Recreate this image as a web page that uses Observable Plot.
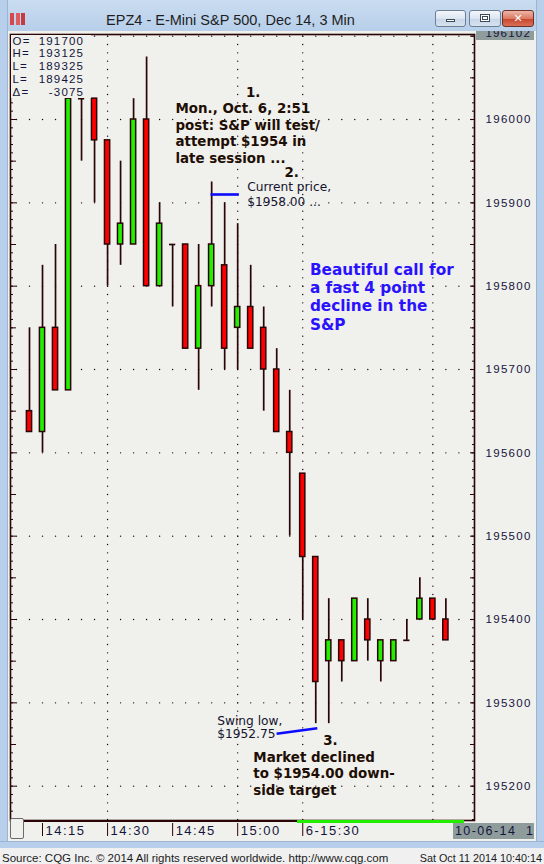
<!DOCTYPE html>
<html>
<head>
<meta charset="utf-8">
<script src="https://cdn.jsdelivr.net/npm/d3@7"></script>
<script src="https://cdn.jsdelivr.net/npm/@observablehq/plot@0.6"></script>
<style>
html, body { margin:0; padding:0; background:#f0f0f0; }
#win { position:relative; width:544px; height:864px; overflow:hidden; background:#f0f0ec; font-family:"Liberation Sans", Arial, sans-serif; }
#titlebar { position:absolute; left:0; top:0; width:544px; height:31px; background:linear-gradient(#cadcf0, #b7cfea); }
#lborder { position:absolute; left:0; top:0; width:8px; height:848px; background:#b7cfea; border-right:1px solid #9db5d2; box-sizing:border-box; }
#rborder { position:absolute; right:0; top:0; width:8px; height:848px; background:#b7cfea; border-left:1px solid #9db5d2; box-sizing:border-box; }
#bborder { position:absolute; left:0; top:841px; width:544px; height:7px; background:#b7cfea; border-top:1px solid #9db5d2; box-sizing:border-box; }
#footer { position:absolute; left:0; top:848px; width:544px; height:16px; background:#f0f0f0; color:#1a1a1a; line-height:16px; }
#footer .l { position:absolute; left:2px; top:2px; font-size:11.5px; }
#footer .r { position:absolute; right:2px; top:2px; font-size:10.8px; }
#title { position:absolute; left:28px; width:405px; top:12px; text-align:center; font-size:14.5px; color:#1e1e1e; line-height:17px; }
#icon { position:absolute; left:10px; top:13px; width:15px; height:12px;
  background:
    linear-gradient(90deg, #d83030 0 4px, transparent 4px 6px, #e04848 6px 10px, transparent 10px 11px, #c82020 11px 15px);
  opacity:0.85; }
.btn { position:absolute; top:10px; height:17px; border:1px solid #6d7f96; border-radius:3px; box-sizing:border-box;
  background:linear-gradient(#f4f7fb, #dbe5f1 50%, #c7d5e7 51%, #d7e2ef); }
#bmin { left:435px; width:31px; }
#bmax { left:469px; width:32px; }
#bcls { left:502px; width:32px; background:linear-gradient(#eeb6a8, #dc7a63 50%, #c7452b 51%, #d86f57); border-color:#6e3128; }
#bmin::after { content:""; position:absolute; left:10px; top:8px; width:9px; height:3px; background:#fff; border:1px solid #3c4a5c; box-sizing:border-box; }
#bmax::after { content:""; position:absolute; left:10px; top:3px; width:10px; height:8px; border:1px solid #3c4a5c; box-sizing:border-box; background:#fff; box-shadow: inset 0 0 0 1px #fff, inset 0 0 0 2px #3c4a5c; }
#bcls::after { content:"\2715"; position:absolute; left:0; width:30px; top:0; line-height:15px; text-align:center; color:#fff; font-weight:bold; font-size:11px; font-family:"DejaVu Sans", sans-serif; }
#win > svg { position:absolute; left:0; top:0; z-index:1; }
#info { position:absolute; left:10.5px; top:34.5px; width:80px; height:63px; background:#f0f0ec; z-index:2; font-size:11.5px; letter-spacing:1.2px; color:#14143c; }
#info .row { position:relative; height:12.8px; line-height:12.8px; }
#info .k { position:absolute; left:2px; }
#info .v { position:absolute; right:6.3px; }
#topbox { position:absolute; left:475.5px; top:31px; width:58.5px; height:9px; background:#8f9c9c; overflow:hidden; z-index:2; }
#topbox span { position:absolute; right:3px; top:-4px; font-size:11.5px; letter-spacing:1.2px; color:#14143c; line-height:13px; }
#datebox { position:absolute; left:453px; top:823px; width:81px; height:16px; background:#8f9c9c; z-index:2; font-size:12.5px; letter-spacing:1.4px; color:#14143c; line-height:16px; white-space:pre; }
#datebox span { position:absolute; left:2px; top:0; }
#thumb { position:absolute; left:10px; top:818px; width:14px; height:21px; background:#f0f0ec; border:1px solid #6a6a6a; border-radius:2px; box-sizing:border-box; z-index:2; }
#sessdark { position:absolute; left:24px; top:821px; width:273px; height:1.3px; background:#2a0505; z-index:2; }
#sessgreen { position:absolute; left:297px; top:820px; width:167px; height:3px; background:#22ee00; z-index:2; }
#win svg g[aria-label="y-axis tick label"] text { letter-spacing:1.3px; }
#win svg g[aria-label="x-axis tick label"] text { letter-spacing:1.5px; }
</style>
</head>
<body>
<div id="win">
  <div id="titlebar"></div>
  <div id="icon"></div>
  <div id="title">EPZ4 - E-Mini S&amp;P 500, Dec 14, 3 Min</div>
  <div class="btn" id="bmin"></div>
  <div class="btn" id="bmax"></div>
  <div class="btn" id="bcls"></div>
  <div id="lborder"></div>
  <div id="rborder"></div>
  <div id="bborder"></div>
  <div id="footer"><span class="l">Source: CQG Inc. © 2014 All rights reserved worldwide. http://www.cqg.com</span><span class="r">Sat Oct 11 2014 10:40:14</span></div>
  <div id="info"></div>
  <div id="topbox"><span>196102</span></div>
  <div id="datebox"><span>10-06-14  1</span></div>
  <div id="thumb"></div>
  <div id="sessdark"></div>
  <div id="sessgreen"></div>
</div>
<script>
// ---- Data (3-minute bars, E-mini S&P 500 Dec 14, Oct 6 2014) ----
const times  = ["14:12","14:15","14:18","14:21","14:24","14:27","14:30","14:33","14:36","14:39",
                "14:42","14:45","14:48","14:51","14:54","14:57","15:00","15:03","15:06","15:09",
                "15:12","15:30","15:33","15:36","15:39","15:42","15:45","15:48","15:51","15:54",
                "15:57","16:00","16:03"];
const opens  = [1956.50,1956.25,1957.50,1956.75,1960.25,1960.25,1959.75,1958.50,1958.50,1960.00,
                1958.00,1958.50,1958.50,1957.25,1958.00,1958.25,1957.50,1957.75,1957.50,1957.00,
                1956.25,1955.75,1954.75,1953.50,1953.75,1953.50,1954.00,1953.50,1953.50,1953.75,
                1954.00,1954.25,1954.00];
const highs  = [1957.50,1958.25,1958.50,1960.25,1960.25,1960.25,1959.75,1959.50,1960.25,1960.75,
                1959.00,1958.50,1958.50,1958.50,1959.25,1959.00,1958.75,1958.25,1957.75,1957.25,
                1956.75,1955.75,1954.75,1954.25,1953.75,1954.25,1954.25,1953.75,1953.75,1954.00,
                1954.50,1954.25,1954.25];
const lows   = [1956.25,1956.00,1956.75,1956.75,1959.50,1959.00,1958.00,1958.25,1958.50,1958.00,
                1958.00,1957.75,1957.25,1956.75,1957.75,1957.00,1957.00,1957.25,1956.50,1956.25,
                1955.00,1954.00,1952.75,1952.75,1953.25,1953.50,1953.50,1953.25,1953.50,1953.75,
                1954.00,1954.00,1953.75];
const closes = [1956.25,1957.50,1956.75,1960.25,1960.25,1959.75,1958.50,1958.75,1960.00,1958.00,
                1958.75,1958.50,1957.25,1958.00,1958.50,1957.25,1957.75,1957.25,1957.00,1956.25,
                1956.00,1954.75,1953.25,1953.75,1953.50,1954.25,1953.75,1953.75,1953.75,1953.75,
                1954.25,1954.00,1953.75];

// axis tick values / labels
const xTickTimes  = ["14:15","14:30","14:45","15:00","15:30"];
const xTickLabels = ["14:15","14:30","14:45","15:00","6-15:30"];
const xGridTimes  = ["14:30","15:00","15:30","16:00"];
const yTickValues = [1952,1953,1954,1955,1956,1957,1958,1959,1960];
const yTickLabels = ["195200","195300","195400","195500","195600","195700","195800","195900","196000"];
const gridLevels  = [1952,1953,1954,1955,1956,1957,1958,1959,1960,1961];

// info box
const infoKeys = ["O=","H=","L=","L=","\u0394="];
const infoVals = ["191700","193125","189325","189425","-3075"];

// annotations (position in bar-index / price units)
const notes = [
  {x: 16.63, y: 1960.336, text: "1.", kind: "bold"},
  {x: 11.22, y: 1959.840, text: "Mon., Oct. 6, 2:51\npost: S&P will test/\nattempt $1954 in\nlate session ...", kind: "bold"},
  {x: 19.60, y: 1959.368, text: "2.", kind: "bold"},
  {x: 16.73, y: 1959.108, text: "Current price,\n$1958.00 ...", kind: "normal"},
  {x: 21.55, y: 1957.874, text: "Beautiful call for\na fast 4 point\ndecline in the\nS&P", kind: "blue"},
  {x: 14.43, y: 1952.708, text: "Swing low,\n$1952.75", kind: "swing"},
  {x: 22.58, y: 1952.560, text: "3.", kind: "bold"},
  {x: 17.20, y: 1952.156, text: "Market declined\nto $1954.00 down-\nside target", kind: "bold"}
];
const pointers = [
  {x1: 13.91, y1: 1959.10, x2: 16.09, y2: 1959.10},
  {x1: 18.99, y1: 1952.628, x2: 22.12, y2: 1952.696}
];

// ---- build ----
const info = document.getElementById("info");
infoKeys.forEach((k, i) => {
  const r = document.createElement("div");
  r.className = "row";
  r.innerHTML = `<span class="k">${k}</span><span class="v">${infoVals[i]}</span>`;
  info.appendChild(r);
});

const bars = times.map((t, i) => ({i, t, o: opens[i], h: highs[i], l: lows[i], c: closes[i]}));
const idxOf = t => times.indexOf(t);
const xTicks = xTickTimes.map(idxOf);
const xGrid = xGridTimes.map(idxOf);
const hw = 0.2; // half body width in bar units
const ink = "#2a0505";

const hDots = [];
for (const lv of gridLevels) for (let k = -1; k <= 34; k++) hDots.push({x: k, y: lv});
const vDots = [];
for (const gx of xGrid) for (let v = 19516; v <= 19610; v++) vDots.push({x: gx, y: v / 10});

const yMinor = d3.range(19516, 19611).map(v => v / 10);
const yMajor = d3.range(19520, 19611, 5).map(v => v / 10);

const chart = Plot.plot({
  width: 544,
  height: 864,
  marginLeft: 10,
  marginRight: 70,
  marginTop: 34,
  marginBottom: 44,
  x: {domain: [-1.46, 34.2], label: null},
  y: {domain: [1951.588, 1961.020], label: null},
  style: {background: "transparent", fontFamily: "Liberation Sans, Arial, sans-serif", fontSize: "11.5px", color: "#14143c", overflow: "visible"},
  marks: [
    Plot.dot(hDots, {x: "x", y: "y", r: 0.7, fill: "#1a0000", stroke: null}),
    Plot.dot(vDots, {x: "x", y: "y", r: 0.7, fill: "#1a0000", stroke: null}),
    Plot.ruleX(bars, {x: "i", y1: "l", y2: "h", stroke: ink, strokeWidth: 1.7}),
    Plot.rect(bars.filter(d => d.c !== d.o), {
      x1: d => d.i - hw, x2: d => d.i + hw, y1: "o", y2: "c",
      fill: d => d.c > d.o ? "#22f000" : "#ff0000", stroke: ink, strokeWidth: 1.5
    }),
    Plot.ruleY(bars.filter(d => d.c === d.o), {y: "o", x1: d => d.i - hw - 0.04, x2: d => d.i + hw + 0.04, stroke: ink, strokeWidth: 1.7}),
    // axis ticks (inward)
    Plot.axisY({anchor: "left", ticks: yMinor, tickSize: 3, dx: 3, fill: "none", stroke: ink, label: null}),
    Plot.axisY({anchor: "left", ticks: yMajor, tickSize: 6, dx: 6, fill: "none", stroke: ink, label: null}),
    Plot.axisY({anchor: "right", ticks: yMinor, tickSize: 3, dx: -3, fill: "none", stroke: ink, label: null}),
    Plot.axisY({anchor: "right", ticks: yMajor, tickSize: 5, dx: -5, fill: "none", stroke: ink, label: null}),
    Plot.axisY({anchor: "right", ticks: yTickValues, tickFormat: d => yTickLabels[yTickValues.indexOf(d)],
      tickSize: 0, tickPadding: 11, textAnchor: "start", fill: "#14143c", fontSize: 11.5, label: null}),
    Plot.axisX({anchor: "bottom", ticks: xTicks, tickSize: 13, dy: 3, fill: "none", stroke: ink, label: null}),
    Plot.axisX({anchor: "bottom", ticks: xTicks, tickFormat: d => xTickLabels[xTicks.indexOf(d)],
      tickSize: 0, tickPadding: 5, textAnchor: "start", dx: 3, fill: "#14143c", fontSize: 13, label: null}),
    Plot.frame({stroke: ink, strokeWidth: 1.6}),
    Plot.link(pointers, {x1: "x1", y1: "y1", x2: "x2", y2: "y2", stroke: "#0a0aff", strokeWidth: 2.6}),
    Plot.text(notes.filter(d => d.kind === "bold"), {x: "x", y: "y", text: "text", textAnchor: "start", lineAnchor: "middle",
      fontFamily: "DejaVu Sans", fontWeight: "bold", fontSize: 13.4, lineHeight: 1.24, fill: "#1e0e04"}),
    Plot.text(notes.filter(d => d.kind === "normal"), {x: "x", y: "y", text: "text", textAnchor: "start", lineAnchor: "middle",
      fontFamily: "DejaVu Sans", fontSize: 12.2, lineHeight: 1.2, fill: "#141430"}),
    Plot.text(notes.filter(d => d.kind === "swing"), {x: "x", y: "y", text: "text", textAnchor: "start", lineAnchor: "middle",
      fontFamily: "DejaVu Sans", fontSize: 12.2, lineHeight: 1.1, fill: "#141430"}),
    Plot.text(notes.filter(d => d.kind === "blue"), {x: "x", y: "y", text: "text", textAnchor: "start", lineAnchor: "middle",
      fontFamily: "DejaVu Sans", fontWeight: "bold", fontSize: 15.3, lineHeight: 1.18, fill: "#2a12ff"})
  ]
});
document.getElementById("win").appendChild(chart);
</script>
</body>
</html>
